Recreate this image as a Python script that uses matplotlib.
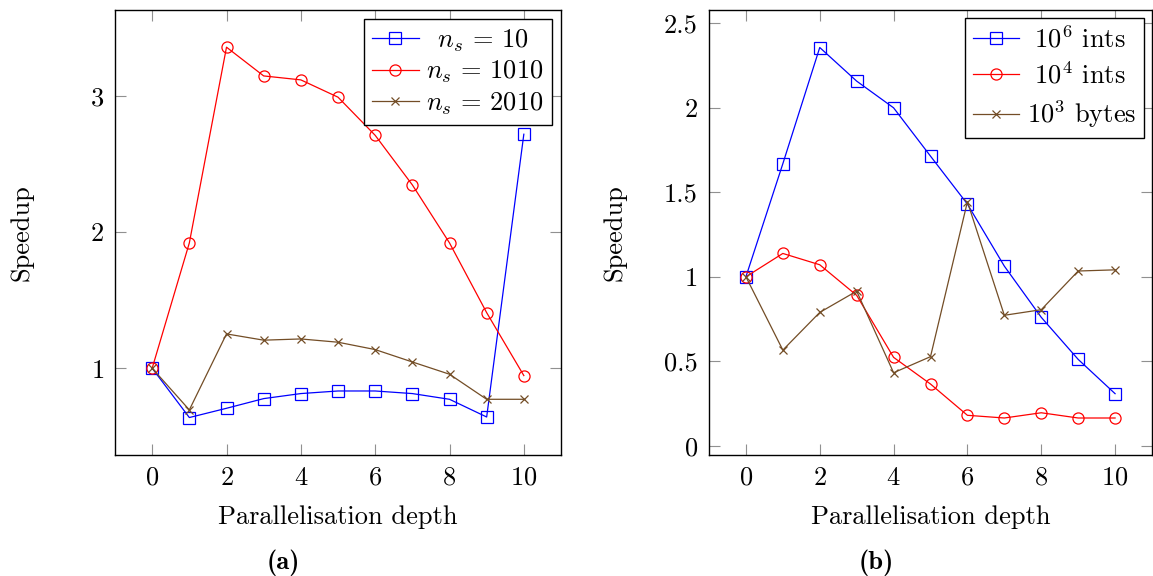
import matplotlib
matplotlib.use("Agg")
import matplotlib.pyplot as plt

plt.rcParams['font.family'] = 'serif'
plt.rcParams['font.serif'] = ['cmr10', 'DejaVu Serif']
plt.rcParams['mathtext.fontset'] = 'cm'
plt.rcParams['axes.formatter.use_mathtext'] = True
plt.rcParams['axes.unicode_minus'] = False

depth = list(range(11))

# Panel (a)
a_ns10 = [1.0, 0.638, 0.706, 0.777, 0.814, 0.833, 0.833, 0.814, 0.772, 0.642, 2.718]
a_ns1010 = [1.0, 1.92, 3.357, 3.146, 3.117, 2.99, 2.71, 2.346, 1.92, 1.408, 0.946]
a_ns2010 = [1.0, 0.694, 1.252, 1.206, 1.215, 1.191, 1.137, 1.046, 0.956, 0.772, 0.772]
a_labels = [r'$\enspace n_s \,=\, 10$', r'$n_s \,=\, 1010$', r'$n_s \,=\, 2010$']

# Panel (b)
b_1e6 = [1.0, 1.669, 2.357, 2.158, 2.0, 1.714, 1.43, 1.063, 0.76, 0.511, 0.308]
b_1e4 = [1.0, 1.138, 1.071, 0.89, 0.523, 0.365, 0.18, 0.164, 0.195, 0.164, 0.164]
b_1e3 = [1.0, 0.566, 0.789, 0.915, 0.432, 0.527, 1.444, 0.772, 0.805, 1.034, 1.041]
b_labels = [r'$\ 10^6$ ints', r'$\ 10^4$ ints', r'$10^3$ bytes']

xticks = [0, 2, 4, 6, 8, 10]
a_yticks = [1, 2, 3]
b_yticks = [0, 0.5, 1, 1.5, 2, 2.5]
b_yticklabels = ['0', '0.5', '1', '1.5', '2', '2.5']

BLUE = (0, 0, 1)
RED = (1, 0, 0)
BROWN = (0.45, 0.3, 0.15)

W, H = 1153, 576
fig = plt.figure(figsize=(W / 100, H / 100), dpi=100)

def px_axes(x0, y0, x1, y1):
    return fig.add_axes([x0 / W, 1 - y1 / H, (x1 - x0) / W, (y1 - y0) / H])

ax1 = px_axes(115, 10, 561, 455)
ax2 = px_axes(709, 10, 1152, 455)

FS = 19
lw = 0.9
ms = 8

def style(ax, ylab_x):
    ax.tick_params(direction='in', length=8, width=0.8, color='#909090',
                   top=True, right=True, labelsize=FS, pad=8)
    for s in ax.spines.values():
        s.set_linewidth(1.0)
        s.set_color('black')
    ax.set_xlim(-1, 11)
    ax.set_xticks(xticks)
    ax.set_xlabel('Parallelisation depth', fontsize=FS, labelpad=11)
    yl = ax.set_ylabel('Speedup', fontsize=FS)
    ax.yaxis.set_label_coords(ylab_x, 0.5)
    yl.set_va('center')

def add_legend(ax, spacing, axpad):
    leg = ax.legend(loc='upper right', fontsize=FS, frameon=True, fancybox=False,
                    edgecolor='black', framealpha=1, handlelength=1.75,
                    borderaxespad=axpad, labelspacing=spacing, handletextpad=0.3,
                    borderpad=0.3)
    leg.get_frame().set_linewidth(1.0)
    return leg

series_a = [(a_ns10, BLUE, 's'), (a_ns1010, RED, 'o'), (a_ns2010, BROWN, 'x')]
for (vals, c, m), lab in zip(series_a, a_labels):
    ax1.plot(depth, vals, color=c, marker=m, lw=lw, ms=ms if m != 'x' else 6,
             mfc='none', mec=c, mew=0.9, label=lab)
style(ax1, (22 - 115) / 446)
ax1.set_ylim(0.363, 3.63)
ax1.set_yticks(a_yticks)
add_legend(ax1, 0.2, 0.35)

series_b = [(b_1e6, BLUE, 's'), (b_1e4, RED, 'o'), (b_1e3, BROWN, 'x')]
for (vals, c, m), lab in zip(series_b, b_labels):
    ax2.plot(depth, vals, color=c, marker=m, lw=lw, ms=ms if m != 'x' else 6,
             mfc='none', mec=c, mew=0.9, label=lab)
style(ax2, (615 - 709) / 443)
ax2.set_ylim(-0.055, 2.579)
ax2.set_yticks(b_yticks)
ax2.set_yticklabels(b_yticklabels)
add_legend(ax2, 0.36, 0.3)

fig.text(283 / W, 1 - 563 / H, '(a)', fontsize=FS, family='cmb10',
         ha='center', va='center')
fig.text(876 / W, 1 - 563 / H, '(b)', fontsize=FS, family='cmb10',
         ha='center', va='center')

fig.savefig('out.png', dpi=100)
